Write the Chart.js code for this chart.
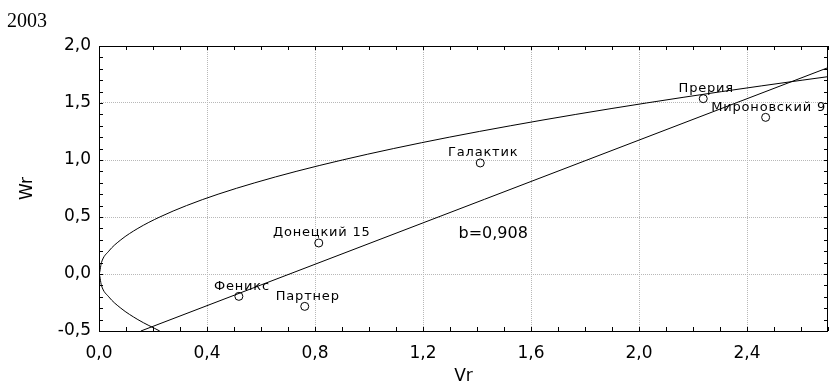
<!DOCTYPE html>
<html>
<head>
<meta charset="utf-8">
<script src="https://cdn.jsdelivr.net/npm/chart.js@4/dist/chart.umd.min.js"></script>
<style>
  html, body { margin: 0; padding: 0; background: #fff; }
  #wrap { width: 829px; height: 384px; }
</style>
</head>
<body>
<div id="wrap"><canvas id="chart" width="829" height="384"></canvas></div>
<script>
// varieties, Vr / Wr
const cultivars = ["Феникс", "Партнер", "Донецкий 15", "Галактик", "Прерия", "Мироновский 9"];
const vrValues = [0.518, 0.762, 0.814, 1.412, 2.238, 2.469];
const wrValues = [-0.196, -0.284, 0.272, 0.974, 1.538, 1.374];

// limiting parabola, points
const parabolaVr = [0.225, 0.144, 0.081, 0.036, 0.009, 0.0, 0.009, 0.036, 0.081, 0.144, 0.225, 0.324,
  0.441, 0.577, 0.730, 0.901, 1.090, 1.297, 1.523, 1.766, 2.027, 2.306, 2.604, 2.70];
const parabolaWr = [-0.5, -0.4, -0.3, -0.2, -0.1, 0.0, 0.1, 0.2, 0.3, 0.4, 0.5, 0.6,
  0.7, 0.8, 0.9, 1.0, 1.1, 1.2, 1.3, 1.4, 1.5, 1.6, 1.7, 1.731];

// regression line ends
const fitVr = [0.155, 2.7];
const fitWr = [-0.5, 1.81];
const slopeLabel = "b=0,908";
const slopeLabelAt = [1.46, 0.35];

const xTicks = [0, 0.4, 0.8, 1.2, 1.6, 2.0, 2.4];
const yTicks = [-0.5, 0, 0.5, 1.0, 1.5, 2.0];
const yearTitle = "2003";

const isMajor = (v, list) => list.some((t) => Math.abs(t - v) < 1e-6);
const fmt = (v) => v.toFixed(1).replace(".", ",");

const toXY = (xs, ys) => xs.map((x, i) => ({ x: x, y: ys[i] }));

// stretch the plot area to the right edge, like the original
const areaPlugin = {
  id: "area",
  afterLayout(chart) {
    const right = chart.width - 1;
    const xs = chart.scales.x;
    chart.chartArea.right = right;
    chart.chartArea.width = right - chart.chartArea.left;
    xs.right = right;
    xs.width = right - xs.left;
    xs.configure();
  }
};

const decorPlugin = {
  id: "decor",
  afterDatasetsDraw(chart) {
    const ctx = chart.ctx;
    const a = chart.chartArea;
    const xs = chart.scales.x;
    const ys = chart.scales.y;
    ctx.save();
    ctx.strokeStyle = "#000";
    ctx.lineWidth = 1;
    // inward tick marks on all sides
    ctx.beginPath();
    xs.ticks.forEach((t) => {
      const px = Math.round(xs.getPixelForValue(t.value)) + 0.5;
      ctx.moveTo(px, a.bottom);
      ctx.lineTo(px, a.bottom - 4);
      ctx.moveTo(px, a.top);
      ctx.lineTo(px, a.top + 4);
    });
    ys.ticks.forEach((t) => {
      const py = Math.round(ys.getPixelForValue(t.value)) + 0.5;
      ctx.moveTo(a.left, py);
      ctx.lineTo(a.left + 4, py);
      ctx.moveTo(a.right, py);
      ctx.lineTo(a.right - 4, py);
    });
    ctx.stroke();
    ctx.strokeRect(Math.round(a.left) + 0.5, Math.round(a.top) + 0.5,
      Math.round(a.right - a.left) - 1, Math.round(a.bottom - a.top));

    // point labels
    ctx.fillStyle = "#000";
    ctx.font = "13px 'DejaVu Sans'";
    ctx.letterSpacing = "0.8px";
    ctx.textAlign = "center";
    ctx.textBaseline = "middle";
    const meta = chart.getDatasetMeta(0);
    meta.data.forEach((pt, i) => {
      ctx.fillText(cultivars[i], pt.x + 3, pt.y - 10);
    });
    ctx.letterSpacing = "0px";
    ctx.font = "16px 'DejaVu Sans'";
    ctx.fillText(slopeLabel, xs.getPixelForValue(slopeLabelAt[0]), ys.getPixelForValue(slopeLabelAt[1]));

    ctx.font = "20px 'Liberation Serif'";
    ctx.textAlign = "left";
    ctx.textBaseline = "alphabetic";
    ctx.fillText(yearTitle, 7, 27);
    ctx.restore();
  }
};

new Chart(document.getElementById("chart"), {
  type: "scatter",
  data: {
    datasets: [
      {
        label: "cultivars",
        data: toXY(vrValues, wrValues),
        pointStyle: "circle",
        pointRadius: 4,
        pointBorderWidth: 1,
        pointBorderColor: "#000",
        pointBackgroundColor: "rgba(255,255,255,0)",
        showLine: false,
      },
      {
        label: "parabola",
        data: toXY(parabolaVr, parabolaWr),
        showLine: true,
        borderColor: "#000",
        borderWidth: 1,
        pointRadius: 0,
        tension: 0.4,
        cubicInterpolationMode: "monotone",
      },
      {
        label: "fit",
        data: toXY(fitVr, fitWr),
        showLine: true,
        borderColor: "#000",
        borderWidth: 1,
        pointRadius: 0,
      },
    ],
  },
  options: {
    responsive: false,
    animation: false,
    layout: { padding: { top: 46, right: 1, left: 0, bottom: 0 } },
    plugins: { legend: { display: false }, tooltip: { enabled: false } },
    scales: {
      x: {
        type: "linear",
        min: 0,
        max: 2.7,
        afterFit(scale) {
          scale.height = 53;
        },
        border: { display: false, dash: [1, 1] },
        grid: {
          drawTicks: false,
          color: (c) => (c.tick && isMajor(c.tick.value, xTicks) ? "#b8b8b8" : "rgba(0,0,0,0)"),
        },
        ticks: {
          stepSize: 0.1,
          autoSkip: false,
          maxRotation: 0,
          padding: 12,
          color: "#000",
          font: { family: "'DejaVu Sans'", size: 17 },
          callback: (v) => (isMajor(v, xTicks) ? fmt(v) : ""),
        },
        title: {
          display: true,
          text: "Vr",
          color: "#000",
          font: { family: "'DejaVu Sans'", size: 17, lineHeight: 1 },
          padding: { top: 0, bottom: -1 },
        },
      },
      y: {
        type: "linear",
        min: -0.5,
        max: 2.0,
        afterFit(scale) {
          scale.width = 99;
          scale.paddingTop = 0;
          scale.paddingBottom = 0;
        },
        border: { display: false, dash: [1, 1] },
        grid: {
          drawTicks: false,
          color: (c) => (c.tick && isMajor(c.tick.value, yTicks) ? "#b8b8b8" : "rgba(0,0,0,0)"),
        },
        ticks: {
          stepSize: 0.1,
          autoSkip: false,
          padding: 8,
          color: "#000",
          font: { family: "'DejaVu Sans'", size: 17 },
          callback: (v) => (isMajor(v, yTicks) ? fmt(v) : ""),
        },
        title: {
          display: true,
          text: "Wr",
          color: "#000",
          font: { family: "'DejaVu Sans'", size: 17, lineHeight: 1 },
          padding: { top: 19, bottom: 0 },
        },
      },
    },
  },
  plugins: [areaPlugin, decorPlugin],
});
</script>
</body>
</html>
